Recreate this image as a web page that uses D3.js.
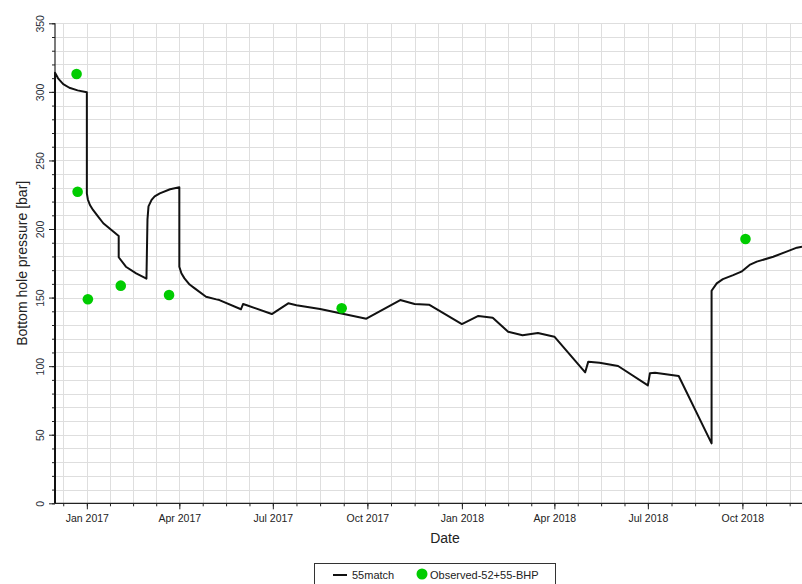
<!DOCTYPE html>
<html>
<head>
<meta charset="utf-8">
<script src="https://cdn.jsdelivr.net/npm/d3@7"></script>
<style>
  html, body { margin: 0; padding: 0; background: #fff; }
  svg { display: block; font-family: "Liberation Sans", Arial, sans-serif; }
</style>
</head>
<body>
<svg id="chart" width="802" height="584"></svg>
<script>
// Simulated bottom hole pressure (55match)
const simDates = [
  "2016-12-01", "2016-12-01", "2016-12-04", "2016-12-09", "2016-12-15", "2016-12-23",
  "2017-01-01", "2017-01-01", "2017-01-02", "2017-01-04", "2017-01-07", "2017-01-12",
  "2017-01-17", "2017-01-27", "2017-02-01",
  "2017-02-01", "2017-02-08", "2017-02-18", "2017-02-28", "2017-03-01", "2017-03-02",
  "2017-03-05", "2017-03-08", "2017-03-13", "2017-03-23", "2017-04-01",
  "2017-04-01", "2017-04-03", "2017-04-06", "2017-04-11", "2017-04-16",
  "2017-04-27", "2017-05-07", "2017-05-10", "2017-05-31", "2017-06-02", "2017-06-05",
  "2017-06-30", "2017-07-16", "2017-07-24", "2017-08-16", "2017-09-30", "2017-11-02",
  "2017-11-16", "2017-11-30", "2018-01-01", "2018-01-17", "2018-01-31", "2018-02-15",
  "2018-03-01", "2018-03-16", "2018-04-01", "2018-05-01", "2018-05-04", "2018-05-15",
  "2018-06-02", "2018-07-01", "2018-07-03", "2018-07-08", "2018-07-31", "2018-09-01",
  "2018-09-01", "2018-09-06", "2018-09-12", "2018-09-22", "2018-09-30", "2018-10-08",
  "2018-10-15", "2018-10-31", "2018-11-13", "2018-11-23", "2018-11-28"
];
const simValues = [
  0, 314.0, 309.9, 305.7, 303.0, 301.1,
  299.7, 226.0, 221.5, 217.5, 213.9, 209.0,
  204.2, 198.0, 194.9,
  179.4, 172.5, 167.7, 163.8, 207.0, 216.5,
  221.2, 223.8, 226.0, 229.0, 230.4,
  172.5, 167.7, 164.0, 159.5, 156.7,
  150.6, 148.7, 148.2, 141.5, 145.3, 144.6,
  138.0, 145.8, 144.4, 141.7, 134.6, 148.2,
  145.3, 144.8, 130.7, 136.6, 135.3, 125.1,
  122.5, 124.2, 121.5, 95.5, 103.3, 102.5,
  100.1, 86.0, 94.8, 95.2, 92.8, 43.7,
  155.0, 160.4, 163.5, 166.4, 168.9, 173.8,
  176.2, 179.8, 183.5, 186.4, 187.1
];

// Observed bottom hole pressure (Observed-52+55-BHP)
const obsDates = ["2016-12-22", "2016-12-23", "2017-01-02", "2017-02-03", "2017-03-22", "2017-09-06", "2018-10-04"];
const obsValues = [313.0, 227.2, 148.8, 158.7, 151.9, 142.2, 192.7];

// Axis labelling
const quarterLabels = ["Jan 2017", "Apr 2017", "Jul 2017", "Oct 2017", "Jan 2018", "Apr 2018", "Jul 2018", "Oct 2018"];
const yTickValues = [0, 50, 100, 150, 200, 250, 300, 350];

const parse = d3.timeParse("%Y-%m-%d");
const sim = simDates.map((d, i) => ({ date: parse(d), value: simValues[i] }));
const obs = obsDates.map((d, i) => ({ date: parse(d), value: obsValues[i] }));

const svg = d3.select("#chart");
const plotL = 55, plotR = 802, plotT = 23.3, plotB = 503.3;

const x = d3.scaleTime()
  .domain([parse("2016-12-01"), parse("2018-11-28")])
  .range([plotL, plotR]);
const y = d3.scaleLinear().domain([0, 350]).range([plotB, plotT]);

// Quarter starts (labelled) and four subdivisions per quarter (minor)
const quarterStarts = d3.timeMonth.every(3).range(parse("2016-10-01"), parse("2019-02-01"));
const minorDates = [];
for (let i = 0; i < quarterStarts.length - 1; i++) {
  const a = +quarterStarts[i], b = +quarterStarts[i + 1];
  for (let k = 0; k < 4; k++) minorDates.push(new Date(a + (b - a) * k / 4));
}
const [d0, d1] = x.domain();
const xMinor = minorDates.filter(d => d >= d0 && d <= d1);
const xMajor = quarterStarts.filter(d => d >= d0 && d <= d1);
const yMinor = d3.range(0, 351, 10);

// Grid
const grid = svg.append("g").attr("stroke", "#dedede").attr("stroke-width", 1);
grid.selectAll("line.v").data(xMinor).join("line")
  .attr("x1", d => Math.round(x(d)) + 0.5).attr("x2", d => Math.round(x(d)) + 0.5)
  .attr("y1", plotT).attr("y2", plotB);
grid.selectAll("line.h").data(yMinor).join("line")
  .attr("x1", plotL).attr("x2", plotR)
  .attr("y1", d => Math.round(y(d)) + 0.5).attr("y2", d => Math.round(y(d)) + 0.5);

// X axis
const xAxis = svg.append("g").attr("transform", `translate(0,${plotB})`);
xAxis.append("g")
  .call(d3.axisBottom(x).tickValues(xMinor).tickSize(3).tickFormat(""))
  .call(g => g.select(".domain").remove());
xAxis.append("g")
  .call(d3.axisBottom(x).tickValues(xMajor).tickSize(6)
    .tickFormat((d, i) => quarterLabels[i]))
  .call(g => g.select(".domain").remove())
  .call(g => g.selectAll("text").attr("font-size", 10.5).attr("fill", "#222")
    .attr("font-family", "Liberation Sans, Arial, sans-serif").attr("dy", "0.95em"));
xAxis.selectAll(".tick line").attr("stroke", "#222");
xAxis.append("line").attr("x1", plotL).attr("x2", plotR).attr("y1", 0).attr("y2", 0)
  .attr("stroke", "#222").attr("stroke-width", 1.2);

// Y axis
const yAxis = svg.append("g").attr("transform", `translate(${plotL},0)`);
yAxis.append("g")
  .call(d3.axisLeft(y).tickValues(yMinor).tickSize(3).tickFormat(""))
  .call(g => g.select(".domain").remove());
yAxis.append("g")
  .call(d3.axisLeft(y).tickValues(yTickValues).tickSize(6).tickFormat(d3.format("d")))
  .call(g => g.select(".domain").remove())
  .call(g => g.selectAll("text")
    .attr("font-size", 10.5).attr("fill", "#2a2f3a")
    .attr("font-family", "Liberation Sans, Arial, sans-serif")
    .attr("x", 0).attr("dy", 0)
    .attr("text-anchor", "middle")
    .attr("transform", "translate(-11,0) rotate(-90)"));
yAxis.selectAll(".tick line").attr("stroke", "#222");
yAxis.append("line").attr("x1", 0).attr("x2", 0).attr("y1", plotT).attr("y2", plotB)
  .attr("stroke", "#222").attr("stroke-width", 1.2);

// Axis titles
svg.append("text")
  .attr("x", 445).attr("y", 543).attr("text-anchor", "middle")
  .attr("font-size", 14).attr("fill", "#222").text("Date");
svg.append("text")
  .attr("transform", `translate(27,${(plotT + plotB) / 2}) rotate(-90)`)
  .attr("text-anchor", "middle").attr("font-size", 14).attr("fill", "#222")
  .text("Bottom hole pressure [bar]");

// Simulated line
const line = d3.line().x(d => x(d.date)).y(d => y(d.value));
svg.append("path").datum(sim)
  .attr("fill", "none").attr("stroke", "#111").attr("stroke-width", 2)
  .attr("stroke-linejoin", "round")
  .attr("d", line);

// Observed points
svg.append("g").selectAll("circle").data(obs).join("circle")
  .attr("cx", d => x(d.date)).attr("cy", d => y(d.value))
  .attr("r", 5.3).attr("fill", "#00cc00");

// Legend
const legend = svg.append("g");
legend.append("rect").attr("x", 314.5).attr("y", 563.5).attr("width", 241).attr("height", 30)
  .attr("fill", "#fff").attr("stroke", "#333").attr("stroke-width", 1);
legend.append("line").attr("x1", 333).attr("x2", 347).attr("y1", 575).attr("y2", 575)
  .attr("stroke", "#111").attr("stroke-width", 2);
legend.append("text").attr("x", 352).attr("y", 579).attr("font-size", 11).attr("fill", "#222").text("55match");
legend.append("circle").attr("cx", 422).attr("cy", 574).attr("r", 5.5).attr("fill", "#00cc00");
legend.append("text").attr("x", 430).attr("y", 579).attr("font-size", 11).attr("fill", "#222").text("Observed-52+55-BHP");
</script>
</body>
</html>
